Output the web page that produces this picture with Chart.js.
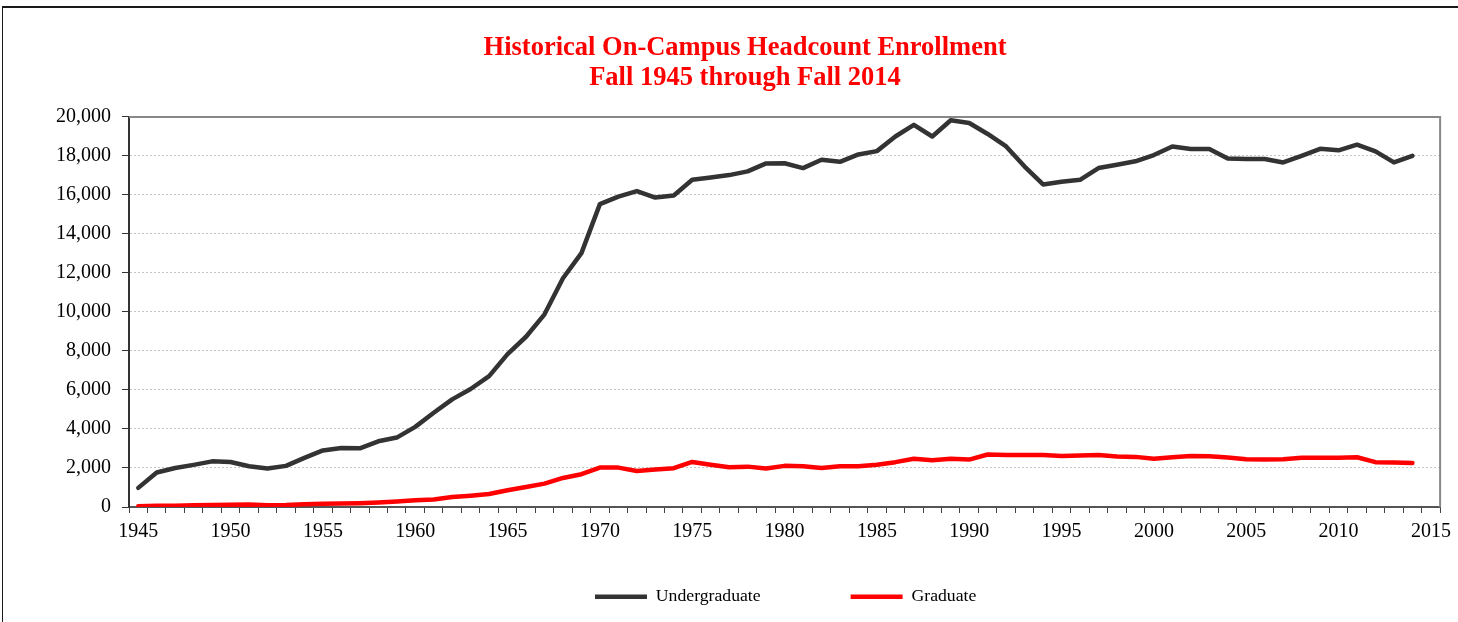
<!DOCTYPE html>
<html lang="en">
<head>
  <meta charset="UTF-8">
  <title>Historical On-Campus Headcount Enrollment</title>
  <script src="https://cdn.jsdelivr.net/npm/chart.js"></script>
  <style>
    html, body { margin: 0; padding: 0; background: #fff; }
    #wrap { position: relative; width: 1458px; height: 622px; }
    #graph { display: block; }
    #frame {
      position: absolute; left: 2px; top: 6px; right: 0; bottom: 0;
      border-top: 2px solid #1a1a1a; border-left: 1px solid #1a1a1a;
      pointer-events: none;
    }
  </style>
</head>
<body>
  <div id="wrap">
    <canvas id="graph" width="1458" height="622"></canvas>
    <div id="frame"></div>
  </div>

  <script>
    // Fall terms on the axis (2015 has no data, it only closes the axis)
    const years = [
      1945, 1946, 1947, 1948, 1949, 1950, 1951, 1952, 1953, 1954,
      1955, 1956, 1957, 1958, 1959, 1960, 1961, 1962, 1963, 1964,
      1965, 1966, 1967, 1968, 1969, 1970, 1971, 1972, 1973, 1974,
      1975, 1976, 1977, 1978, 1979, 1980, 1981, 1982, 1983, 1984,
      1985, 1986, 1987, 1988, 1989, 1990, 1991, 1992, 1993, 1994,
      1995, 1996, 1997, 1998, 1999, 2000, 2001, 2002, 2003, 2004,
      2005, 2006, 2007, 2008, 2009, 2010, 2011, 2012, 2013, 2014,
      2015
    ];

    // Headcounts
    const undergraduate = [
      980, 1770, 2000, 2160, 2340, 2310, 2090, 1970, 2110, 2520,
      2900, 3030, 3010, 3370, 3560, 4110, 4830, 5520, 6050, 6710,
      7840, 8730, 9880, 11730, 13020, 15530, 15920, 16200, 15870, 15970,
      16780, 16900, 17020, 17210, 17620, 17630, 17380, 17810, 17700, 18080,
      18250, 19000, 19600, 19000, 19830, 19690, 19130, 18490, 17460, 16540,
      16680, 16780, 17380, 17550, 17730, 18050, 18490, 18360, 18360, 17870,
      17850, 17850, 17670, 18010, 18370, 18290, 18580, 18240, 17670, 18010
    ];

    const graduate = [
      40, 60, 70, 90, 100, 120, 125, 90, 100, 140,
      170, 175, 190, 225, 280, 340, 390, 510, 580, 670,
      860, 1030, 1200, 1490, 1680, 2020, 2020, 1850, 1920, 1990,
      2310, 2170, 2040, 2070, 1970, 2110, 2090, 2000, 2090, 2090,
      2170, 2300, 2470, 2400, 2470, 2430, 2690, 2670, 2670, 2670,
      2620, 2640, 2670, 2590, 2570, 2480, 2550, 2620, 2600, 2540,
      2450, 2430, 2450, 2520, 2520, 2520, 2550, 2300, 2280, 2260
    ];

    const yTicks = [0, 2000, 4000, 6000, 8000, 10000, 12000, 14000, 16000, 18000, 20000];

    const serif = "'Liberation Serif', 'Times New Roman', serif";

    // gray box on top/right of the plot + legend placed under the axis
    const plotFrame = {
      id: 'plotFrame',
      afterLayout(chart) {
        // legend clips to its own box, so give it room down to the bottom
        const lg = chart.legend;
        lg.left = 505;
        lg.right = 1458;
        lg.top = 498;
        lg.bottom = 622;
        lg.height = lg.bottom - lg.top;
      },
      beforeDatasetsDraw(chart) {
        const { ctx, chartArea: a } = chart;
        ctx.save();
        ctx.strokeStyle = '#888888';
        ctx.lineWidth = 2;
        ctx.beginPath();
        ctx.moveTo(a.left, a.top);
        ctx.lineTo(a.right, a.top);
        ctx.lineTo(a.right, a.bottom);
        ctx.stroke();
        ctx.restore();
      }
    };

    const ctx = document.getElementById('graph').getContext('2d');
    new Chart(ctx, {
      type: 'line',
      data: {
        labels: years,
        datasets: [
          {
            label: 'Undergraduate',
            data: undergraduate,
            borderColor: '#333333',
            backgroundColor: '#333333',
            borderWidth: 4.5,
            borderCapStyle: 'round',
            borderJoinStyle: 'round',
            pointRadius: 0,
            tension: 0,
            fill: false
          },
          {
            label: 'Graduate',
            data: graduate,
            borderColor: '#ff0000',
            backgroundColor: '#ff0000',
            borderWidth: 4.5,
            borderCapStyle: 'round',
            borderJoinStyle: 'round',
            pointRadius: 0,
            tension: 0,
            fill: false
          }
        ]
      },
      options: {
        responsive: false,
        animation: false,
        layout: { padding: { top: 33, left: 49, right: 17, bottom: 45 } },
        plugins: {
          title: {
            display: true,
            text: ['Historical On-Campus Headcount Enrollment', 'Fall 1945 through Fall 2014'],
            color: '#ff0000',
            font: { family: serif, size: 26.5, weight: 'bold', lineHeight: 1.132 },
            padding: { top: 0, bottom: 24 }
          },
          legend: {
            position: 'bottom',
            align: 'start',
            maxHeight: 30,
            labels: {
              usePointStyle: true,
              pointStyle: 'line',
              pointStyleWidth: 52,
              padding: 90,
              color: '#000',
              font: { family: serif, size: 17.7 }
            }
          },
          tooltip: { enabled: false }
        },
        scales: {
          x: {
            type: 'category',
            offset: true,
            grid: {
              offset: true,
              drawOnChartArea: false,
              tickLength: 6,
              tickColor: '#444'
            },
            border: { color: '#555', width: 2 },
            ticks: {
              autoSkip: false,
              maxRotation: 0,
              padding: 7,
              color: '#000',
              font: { family: serif, size: 20 },
              callback: function (v, i) {
                const yr = years[i];
                return yr % 5 === 0 ? String(yr) : '';
              }
            },
            afterFit: function (scale) { scale.height = 40; }
          },
          y: {
            min: 0,
            max: 20000,
            afterBuildTicks: function (scale) {
              scale.ticks = yTicks.map(v => ({ value: v }));
            },
            ticks: {
              padding: 11,
              color: '#000',
              font: { family: serif, size: 20 },
              callback: v => v.toLocaleString('en-US')
            },
            grid: { color: '#c4c4c4', lineWidth: 1, tickLength: 7, tickColor: '#333' },
            border: { color: '#333', width: 2, dash: [2, 2] },
            afterFit: function (scale) { scale.width = 80; }
          }
        }
      },
      plugins: [plotFrame]
    });
  </script>
</body>
</html>
